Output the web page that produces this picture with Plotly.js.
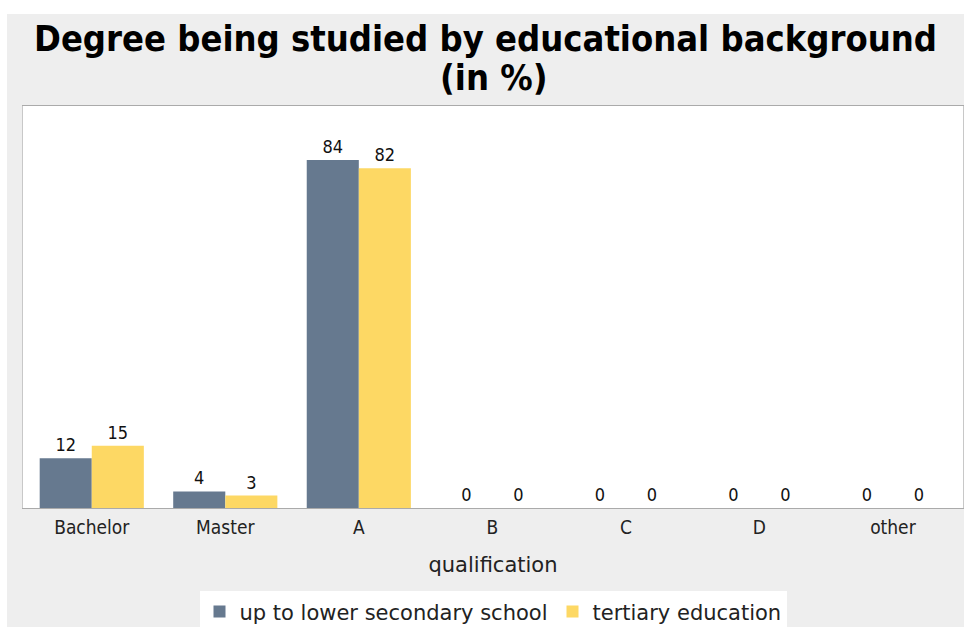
<!DOCTYPE html>
<html>
<head>
<meta charset="utf-8">
<script src="https://cdn.plot.ly/plotly-3.0.1.min.js"></script>
<style>
html,body{margin:0;padding:0;background:#ffffff;}
#chart{position:absolute;left:7px;top:14px;width:957px;height:613px;}
</style>
</head>
<body>
<div id="chart"></div>
<script>
var categories = ["Bachelor", "Master", "A", "B", "C", "D", "other"];
var lowerSecondary = [12, 4, 84, 0, 0, 0, 0];
var tertiary = [15, 3, 82, 0, 0, 0, 0];
var seriesNames = ["up to lower secondary school", "tertiary education"];
var titleLine1 = "Degree being studied by educational background";
var titleLine2 = "(in %)";
var xTitle = "qualification";

var titleFont = {family: "DejaVu Sans Condensed, DejaVu Sans", size: 36, color: "#000", weight: "bold"};
var labelFont = {family: "DejaVu Sans Condensed, DejaVu Sans", size: 18, color: "#111"};
var traces = [
  {type: "bar", name: seriesNames[0], x: categories, y: lowerSecondary,
   marker: {color: "#66798f"}, text: lowerSecondary.map(String),
   textposition: "outside", textfont: labelFont, cliponaxis: false, hoverinfo: "x+y"},
  {type: "bar", name: seriesNames[1], x: categories, y: tertiary,
   marker: {color: "#fdd864"}, text: tertiary.map(String),
   textposition: "outside", textfont: labelFont, cliponaxis: false, hoverinfo: "x+y"}
];

var layout = {
  width: 957, height: 613,
  paper_bgcolor: "#eeeeee", plot_bgcolor: "#ffffff",
  margin: {l: 16, r: 1, t: 92, b: 119, autoexpand: false},
  barmode: "group", bargap: 0.22, bargroupgap: 0,
  title: {text: titleLine1, x: 0.5, xanchor: "center", yref: "container", y: 0.961, yanchor: "middle",
          font: titleFont, automargin: false},
  annotations: [{text: titleLine2, xref: "paper", yref: "paper", x: 0.5, y: 1.072,
                 xanchor: "center", yanchor: "middle", showarrow: false, font: titleFont}],
  xaxis: {type: "category", range: [-0.515, 6.525], showline: true, mirror: true,
          linecolor: "#aaaaaa", linewidth: 1, ticks: "", showgrid: false, ticklabelstandoff: 2,
          automargin: false,
          tickfont: {family: "DejaVu Sans Condensed, DejaVu Sans", size: 19, color: "#222"},
          title: {text: xTitle, font: {family: "DejaVu Sans", size: 21, color: "#222"}, standoff: 20}},
  yaxis: {range: [0, 97], showline: true, mirror: true, linecolor: "#c8c8c8", linewidth: 1,
          automargin: false,
          showticklabels: false, ticks: "", showgrid: false, zeroline: false, fixedrange: true},
  showlegend: true,
  legend: {orientation: "h", x: 0.5, xanchor: "center", y: -0.2075, yanchor: "top",
           bgcolor: "#ffffff", font: {family: "DejaVu Sans", size: 21, color: "#222"},
           itemwidth: 30, traceorder: "normal"}
};

Plotly.newPlot("chart", traces, layout, {displayModeBar: false, staticPlot: true});
</script>
</body>
</html>
